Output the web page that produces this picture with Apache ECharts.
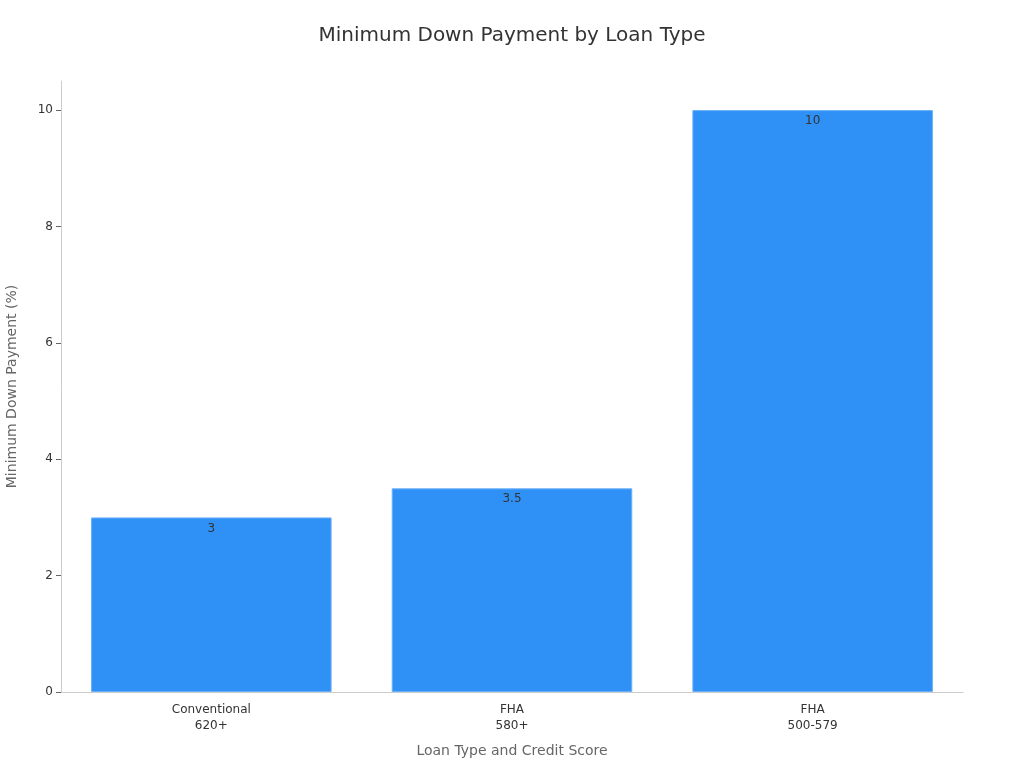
<!DOCTYPE html>
<html><head><meta charset="utf-8">
<script src="https://cdn.jsdelivr.net/npm/echarts@6/dist/echarts.min.js"></script>
<style>html,body{margin:0;padding:0;background:#fff}#c{width:1024px;height:768px}</style>
</head><body><div id="c"></div>
<script>
const categories = ['Conventional\n620+', 'FHA\n580+', 'FHA\n500-579'];
const downPayment = [3, 3.5, 10];
const yTicks = [0, 2, 4, 6, 8, 10];

const chart = echarts.init(document.getElementById('c'));
chart.setOption({
  animation: false,
  textStyle: { fontFamily: 'DejaVu Sans' },
  title: {
    text: 'Minimum Down Payment by Loan Type',
    left: 'center', top: 21,
    textStyle: { fontSize: 20, fontWeight: 'normal', color: '#333', fontFamily: 'DejaVu Sans' }
  },
  grid: { left: 61, right: 61, top: 81, bottom: 76, containLabel: false, outerBoundsMode: 'none' },
  xAxis: {
    type: 'category',
    data: categories,
    name: 'Loan Type and Credit Score',
    nameLocation: 'middle', nameGap: 52,
    nameTextStyle: { fontSize: 14, color: '#666' },
    axisLine: { lineStyle: { color: '#ccc' } },
    axisTick: { alignWithLabel: true, lineStyle: { color: '#666' } },
    axisLabel: { color: '#333', fontSize: 12, lineHeight: 16, margin: 10 }
  },
  yAxis: {
    type: 'value',
    min: 0, max: 10.5, interval: 2,
    name: 'Minimum Down Payment (%)',
    nameLocation: 'middle', nameGap: 42, nameRotate: 90,
    nameTextStyle: { fontSize: 14, color: '#666' },
    axisLine: { show: true, lineStyle: { color: '#ccc' } },
    axisTick: { show: true, customValues: yTicks, lineStyle: { color: '#666' } },
    axisLabel: { customValues: yTicks, color: '#333', fontSize: 12, margin: 8 },
    splitLine: { show: false }
  },
  series: [{
    type: 'bar',
    data: downPayment,
    barWidth: '80%',
    itemStyle: { color: '#2f91f5', borderColor: '#6ab0f8', borderWidth: 1 },
    label: { show: true, position: 'insideTop', distance: 5, color: '#333', fontSize: 12 }
  }]
});
</script></body></html>
